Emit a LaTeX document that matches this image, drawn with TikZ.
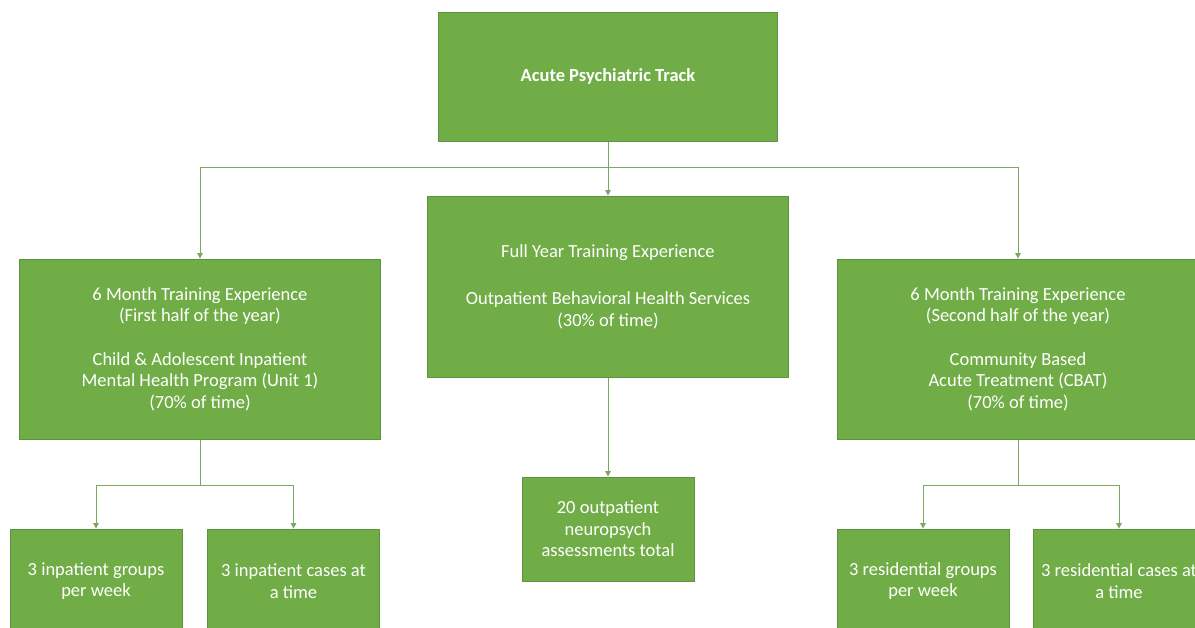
\documentclass[tikz,border=0pt]{standalone}
\usepackage{fontspec}
\setmainfont{Carlito}
\usetikzlibrary{arrows.meta}
\pgfdeclarelayer{nodelayer}
\pgfdeclarelayer{edgelayer}
\pgfsetlayers{edgelayer,nodelayer,main}
\definecolor{boxgreen}{HTML}{70AD47}
\definecolor{boxedge}{HTML}{5E9240}
\definecolor{linkgreen}{HTML}{7AA862}
\tikzset{box/.style={draw=boxedge, fill=boxgreen, line width=0.8pt, text=white,
align=center, inner sep=0pt, font=\fontsize{18.5}{21.5}\selectfont}}
\tikzset{bigbox/.style={box, minimum width=361pt, minimum height=180pt}}
\tikzset{smallbox/.style={box, minimum width=172pt, minimum height=104pt}}
\tikzstyle{link}=[draw=linkgreen, line width=1pt, -{Triangle[width=5.5pt,length=5.5pt]}]
\tikzstyle{none}=[inner sep=0pt]
\begin{document}
\begin{tikzpicture}[x=1pt, y=-1pt]
    			\useasboundingbox (0, 0) rectangle (1195, 628);
    			\begin{pgfonlayer}{nodelayer}
    				\node [style=box, minimum width=339pt, minimum height=129pt] (1) at (608, 76.5) {\bfseries Acute Psychiatric Track};
    				\node [style=bigbox, minimum height=181pt] (2) at (608, 286.5) {Full Year Training Experience\\[26pt]Outpatient Behavioral Health Services\\(30\% of time)};
    				\node [style=bigbox] (3) at (200, 349) {6 Month Training Experience\\(First half of the year)\\[22pt]Child \& Adolescent Inpatient\\Mental Health Program (Unit 1)\\(70\% of time)};
    				\node [style=bigbox] (4) at (1018, 349) {6 Month Training Experience\\(Second half of the year)\\[22pt]Community Based\\Acute Treatment (CBAT)\\(70\% of time)};
    				\node [style=smallbox] (5) at (96, 581) {3 inpatient groups\\per week};
    				\node [style=smallbox] (6) at (293.5, 581) {3 inpatient cases at\\a time};
    				\node [style=smallbox] (7) at (608, 529) {20 outpatient\\neuropsych\\assessments total};
    				\node [style=smallbox] (8) at (923, 581) {3 residential groups\\per week};
    				\node [style=smallbox] (9) at (1119, 581) {3 residential cases at\\a time};
    				\coordinate (10) at (608, 168);
    				\coordinate (11) at (200, 485);
    				\coordinate (12) at (1018, 485);
    			\end{pgfonlayer}
    			\begin{pgfonlayer}{edgelayer}
    				\draw [style=link] (1.south) to (2.north);
    				\draw [style=link] (1.south) -- (10) -| (3.north);
    				\draw [style=link] (1.south) -- (10) -| (4.north);
    				\draw [style=link] (3.south) -- (11) -| (5.north);
    				\draw [style=link] (3.south) -- (11) -| (6.north);
    				\draw [style=link] (2.south) to (7.north);
    				\draw [style=link] (4.south) -- (12) -| (8.north);
    				\draw [style=link] (4.south) -- (12) -| (9.north);
    			\end{pgfonlayer}
    		\end{tikzpicture}
\end{document}
